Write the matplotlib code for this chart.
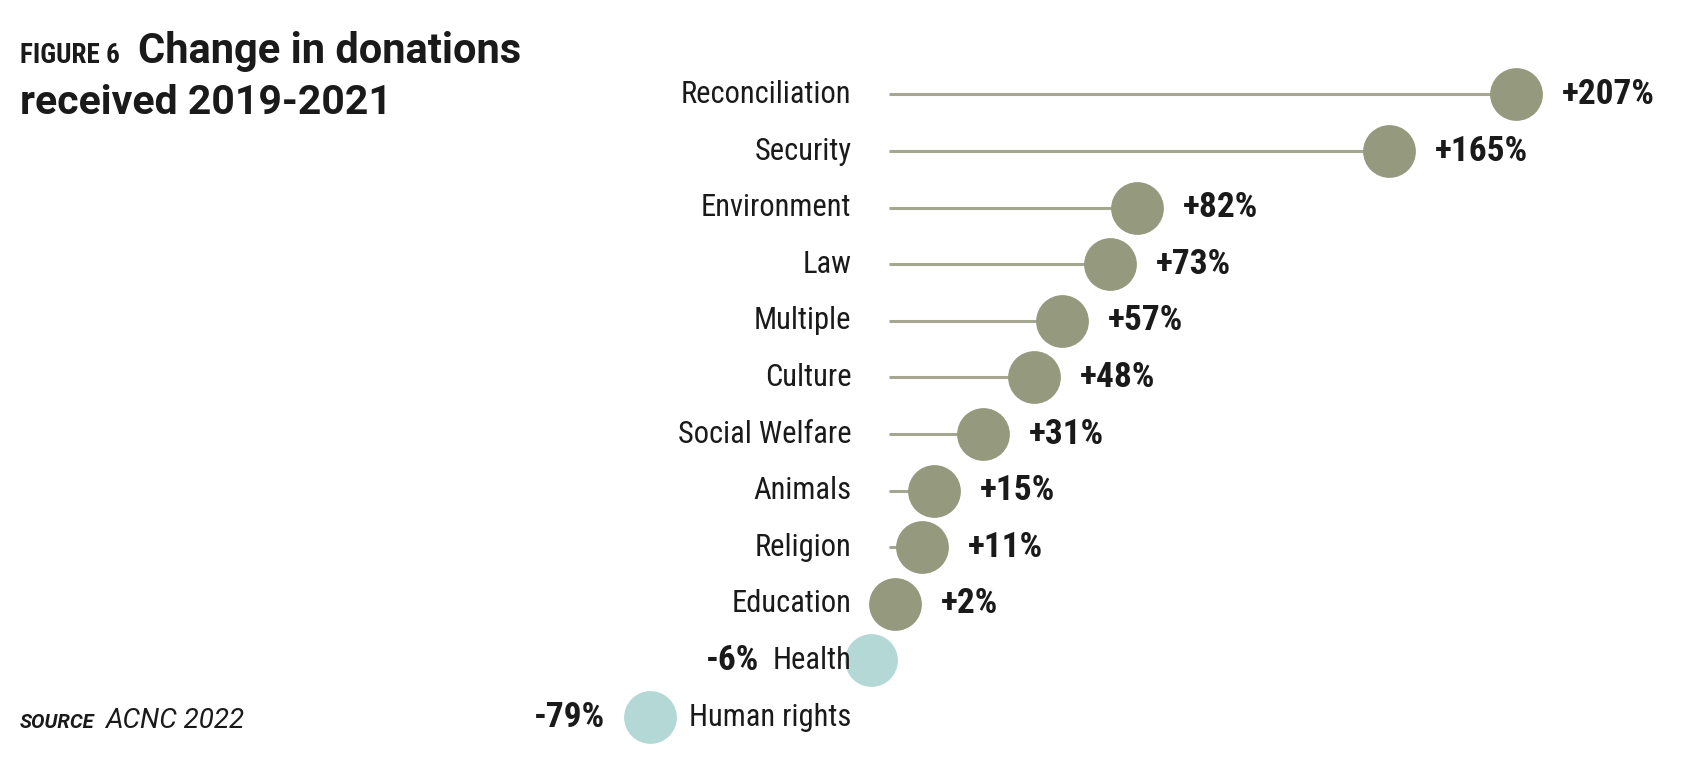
import matplotlib
matplotlib.use("Agg")
import matplotlib.pyplot as plt
from matplotlib import font_manager

# Data
categories = ["Reconciliation", "Security", "Environment", "Law", "Multiple", "Culture",
              "Social Welfare", "Animals", "Religion", "Education", "Health", "Human rights"]
changes = [207, 165, 82, 73, 57, 48, 31, 15, 11, 2, -6, -79]
value_labels = ["+207%", "+165%", "+82%", "+73%", "+57%", "+48%", "+31%", "+15%",
                "+11%", "+2%", "-6%", "-79%"]

pos_color = "#959a7f"
line_color = "#a4a690"
neg_color = "#b3d8d6"
text_color = "#1a1a1a"

# pick a narrow font if one is installed
names = {f.name for f in font_manager.fontManager.ttflist}
narrow = "DejaVu Sans"
stretch = "condensed"
for cand in ["Liberation Sans Narrow", "DejaVu Sans Condensed", "Roboto Condensed"]:
    if cand in names:
        narrow = cand
        break

W, H = 1704, 776
fig = plt.figure(figsize=(W / 100, H / 100), dpi=100)
ax = fig.add_axes([0, 0, 1, 1])

# 0% sits at x=889px, 3.03 px per %, rows 56.6 px apart starting at y=94.5px
zero_px, px_per = 889, 3.03
row0, row_h = 94.5, 56.6
ax.set_xlim(-zero_px / px_per, (W - zero_px) / px_per)
ax.set_ylim((H - row0) / row_h, -row0 / row_h)
ax.axis("off")

renderer = fig.canvas.get_renderer()
for i, (cat, val, lab) in enumerate(zip(categories, changes, value_labels)):
    col = pos_color if val >= 0 else neg_color
    if val > 0:
        ax.plot([0, val], [i, i], color=line_color, lw=2.2, zorder=1, solid_capstyle="butt")
    ax.plot(val, i, "o", ms=38, color=col, mec="none", zorder=2)
    t = ax.annotate(cat, xy=(0, i), xytext=(-27, 0), textcoords="offset points",
                    ha="right", va="center", fontsize=22, color=text_color,
                    family=narrow, fontstretch=stretch, zorder=3)
    if val >= 0:
        ax.annotate(lab, xy=(val, i), xytext=(33, 0), textcoords="offset points",
                    ha="left", va="center", fontsize=25.5, fontweight="bold",
                    color=text_color, family=narrow, fontstretch=stretch)
    else:
        # put the value left of whichever sits further left: circle or label
        bb = t.get_window_extent(renderer)
        circ_left = ax.transData.transform((val, i))[0] - 26
        if circ_left < bb.x0:
            ax.annotate(lab, xy=(val, i), xytext=(-32, 0), textcoords="offset points",
                        ha="right", va="center", fontsize=25.5, fontweight="bold",
                        color=text_color, family=narrow, fontstretch=stretch)
        else:
            ax.annotate(lab, xy=(0, 0.5), xycoords=t, xytext=(-10, 0),
                        textcoords="offset points", ha="right", va="center",
                        fontsize=25.5, fontweight="bold", color=text_color,
                        family=narrow, fontstretch=stretch)

# title block
fig.text(20 / W, 1 - 63 / H, "FIGURE 6", fontsize=19.5, fontweight="bold",
         family=narrow, fontstretch=stretch, color=text_color, va="baseline")
fig.text(138 / W, 1 - 63 / H, "Change in donations", fontsize=30, fontweight="bold",
         color=text_color, va="baseline", family="Roboto")
fig.text(20 / W, 1 - 114 / H, "received 2019-2021", fontsize=29.5, fontweight="bold",
         color=text_color, va="baseline", family="Roboto")

# source
fig.text(20 / W, 1 - 728 / H, "SOURCE", fontsize=14.5, fontweight="bold", style="italic",
         color=text_color, va="baseline", family="Roboto")
fig.text(105 / W, 1 - 728 / H, "ACNC 2022", fontsize=20, style="italic",
         color=text_color, va="baseline", family="Roboto")

fig.savefig("out.png", dpi=100)
